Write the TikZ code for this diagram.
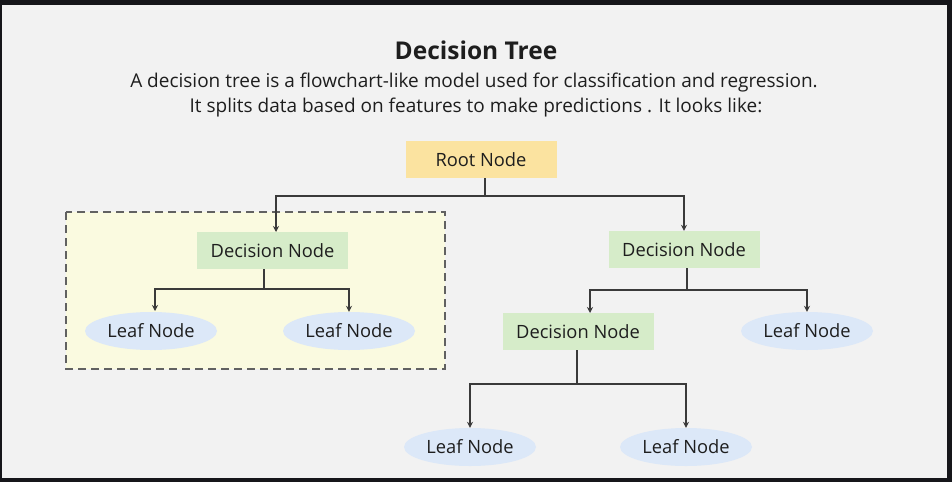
\documentclass[tikz,border=0pt]{standalone}
\usepackage{fontspec}
\setmainfont{Open Sans}
\usetikzlibrary{shapes.geometric,arrows.meta}
\definecolor{framec}{HTML}{16161A}
\definecolor{bgc}{HTML}{F2F2F2}
\definecolor{rootc}{HTML}{FBE3A0}
\definecolor{dnc}{HTML}{D6ECC9}
\definecolor{leafc}{HTML}{DCE8F8}
\definecolor{groupc}{HTML}{FAFAE0}
\definecolor{linec}{HTML}{3A3A3A}
\definecolor{txtc}{HTML}{1E1E1E}
\begin{document}
\begin{tikzpicture}[x=1pt,y=-1pt,
  nodetext/.style={text=txtc, font=\fontsize{18.3}{21}\selectfont},
  rootbox/.style={nodetext, fill=rootc, minimum width=151pt, minimum height=37pt, inner sep=0pt},
  decbox/.style={nodetext, fill=dnc, minimum width=151pt, minimum height=37pt, inner sep=0pt},
  leaf/.style={nodetext, ellipse, fill=leafc, minimum width=132pt, minimum height=38pt, inner sep=0pt},
  conn/.style={draw=linec, line width=1.4pt},
  arr/.style={conn, -{Stealth[length=6pt,width=6pt]}},
  group/.style={draw=linec!80, fill=groupc, line width=1.4pt, dash pattern=on 8pt off 5pt}]
\fill[framec] (0,0) rectangle (952,482);
\fill[bgc] (2,5) rectangle (947,478);
\node[text=txtc, font=\fontsize{24.5}{28}\selectfont\bfseries] (title) at (476,50) {Decision Tree};
\node[text=txtc, font=\fontsize{19}{22}\selectfont] (l1) at (474,83) {A decision tree is a flowchart-like model used for classification and regression.};
\node[text=txtc, font=\fontsize{19}{22}\selectfont] (l2) at (476,108) {It splits data based on features to make predictions . It looks like:};
\draw[group] (66,212) rectangle (445,369);
\node[rootbox] (root) at (481,159.5) {Root Node};
\node[decbox] (dnL) at (272.5,250.5) {Decision Node};
\node[decbox] (dnR) at (684,249.5) {Decision Node};
\node[leaf] (lf1) at (151,331) {Leaf Node};
\node[leaf] (lf2) at (349,331) {Leaf Node};
\node[decbox] (dn2) at (578,331.5) {Decision Node};
\node[leaf] (lf3) at (807,331) {Leaf Node};
\node[leaf] (lf4) at (470,447) {Leaf Node};
\node[leaf] (lf5) at (686,447) {Leaf Node};
\coordinate (j1) at (485,196);
\coordinate (j2) at (264,289);
\coordinate (j3) at (687,290);
\coordinate (j4) at (577,384);
\draw[conn] (root.south -| j1) -- (j1);
\draw[arr] (j1) -| (276,232);
\draw[arr] (j1) -| (dnR.north);
\draw[conn] (dnL.south -| j2) -- (j2);
\draw[arr] (j2) -| (155,311);
\draw[arr] (j2) -| (lf2.north);
\draw[conn] (dnR.south -| j3) -- (j3);
\draw[arr] (j3) -| (590,313);
\draw[arr] (j3) -| (lf3.north);
\draw[conn] (dn2.south -| j4) -- (j4);
\draw[arr] (j4) -| (lf4.north);
\draw[arr] (j4) -| (lf5.north);
\end{tikzpicture}
\end{document}
